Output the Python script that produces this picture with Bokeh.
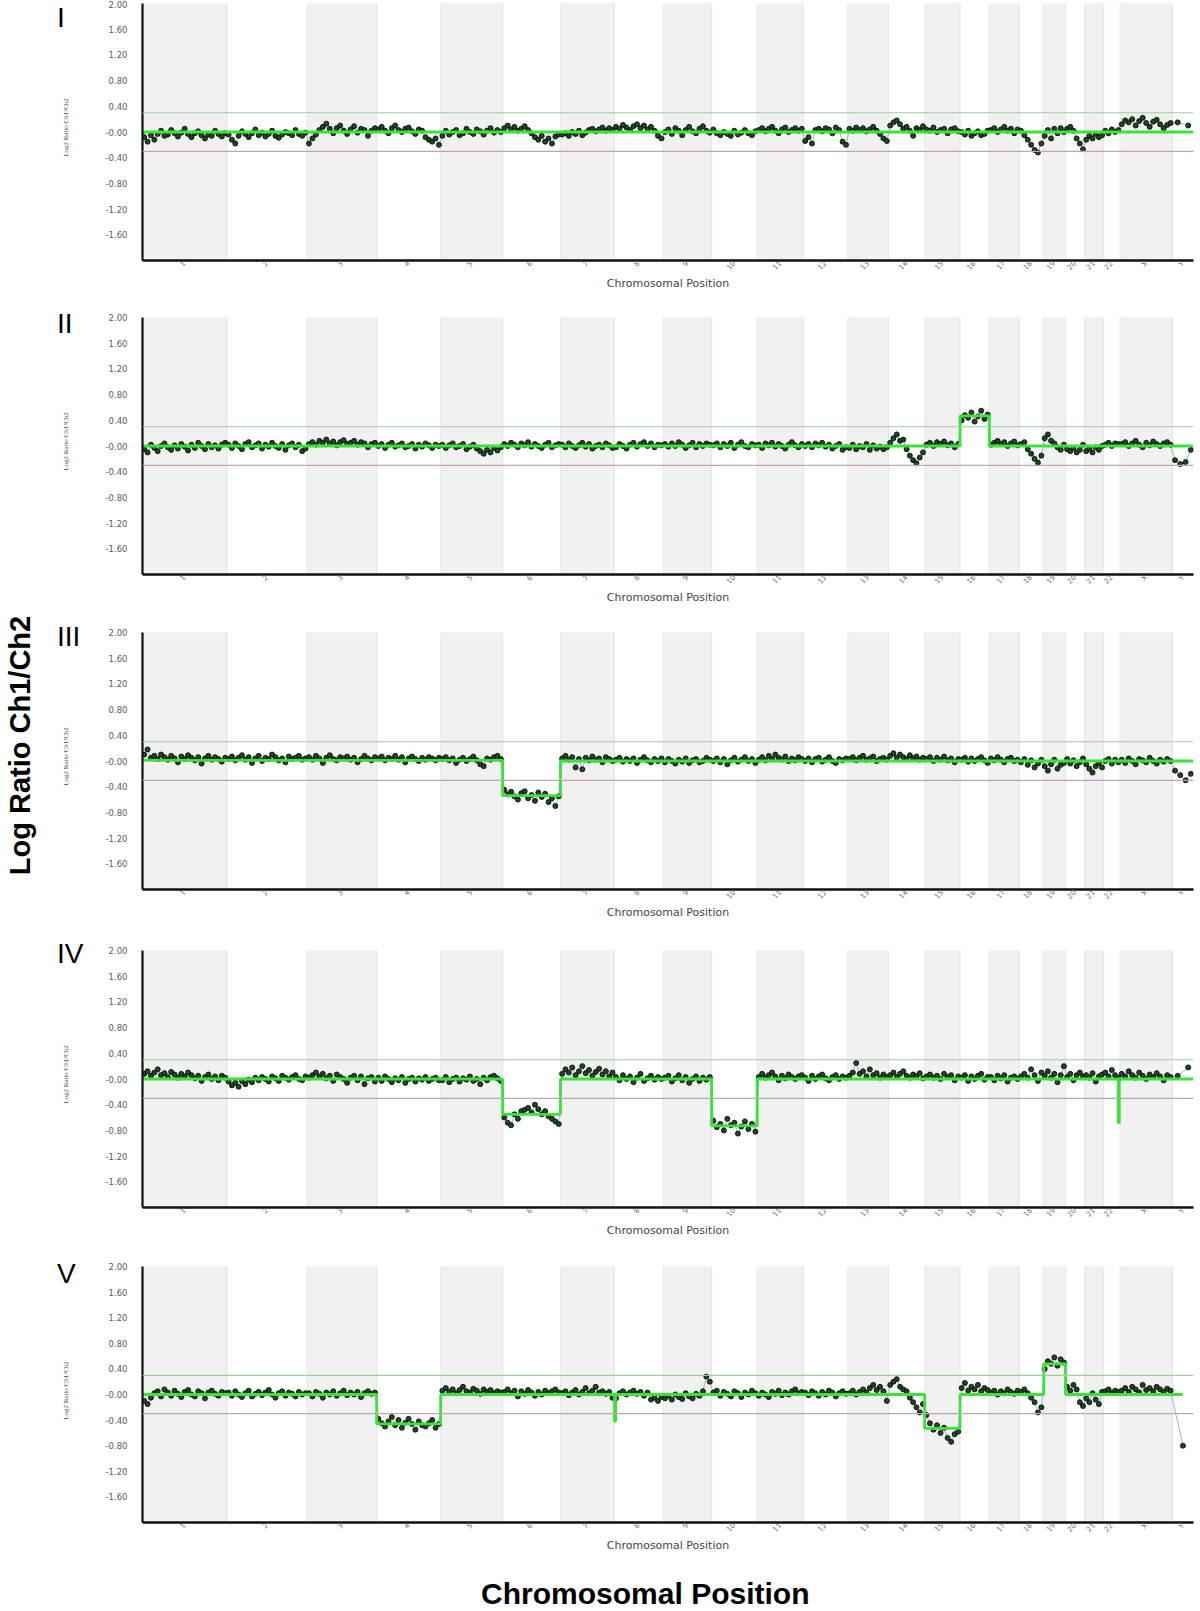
import numpy as np
from bokeh.plotting import figure
from bokeh.layouts import column, row
from bokeh.models import Range1d, FixedTicker, PrintfTickFormatter, Label, Span
from bokeh.embed import file_html
from bokeh.resources import INLINE

# ---------------- data ----------------
chrom_names = ["1", "2", "3", "4", "5", "6", "7", "8", "9", "10", "11", "12",
               "13", "14", "15", "16", "17", "18", "19", "20", "21", "22", "X", "Y"]
chrom_len_mb = [248, 236, 204, 188, 182, 170, 158, 144, 142, 134, 136, 130,
                120, 106, 104, 86, 88, 70, 66, 56, 56, 48, 154, 62]

y_ticks = [2.0, 1.6, 1.2, 0.8, 0.4, 0.0, -0.4, -0.8, -1.2, -1.6]
gain_threshold = 0.3
loss_threshold = -0.3
panel_names = ["I", "II", "III", "IV", "V"]

# log2 ratios (x100), one list per chromosome
ratios_I = [
    [-8, -15, -5, -12, -3, 2, -6, -4, 3, -2, -7, -1, 5, -3, -8, -2, 1, -5, -10, -4, -6, 2, -3, -7, -2],
    [-4, -12, -18, -6, 1, -3, -8, -2, 4, -5, -1, -7, -3, 2, -6, -9, -4, 0, -2, -5, 3, -3, -6, -1],
    [-18, -10, -4, 3, 8, 13, 5, -2, 6, 10, 2, -3, 4, 9, -1, 5, 3, -6, 2, 6],
    [4, 8, 2, -2, 6, 10, 3, 0, 5, 7, 1, -3, 4, 2, -8, -12, -15, -10, -20],
    [-6, 2, -4, 0, 3, -5, -2, 5, 0, -3, 4, 1, -4, 2, 6, -1, 3, 0],
    [6, 10, 4, 8, 2, 5, 9, 3, -2, -8, -12, -6, -15, -10, -18, -7, -4],
    [-4, -2, -6, 0, -3, 2, -5, -1, 3, 5, 1, 4, 7, 2, 6, 3],
    [8, 5, 11, 7, 3, 9, 12, 6, 10, 4, 8, 2, -6, -10],
    [0, 4, -3, 6, 2, -5, 3, 8, 1, -2, 5, 9, 2, -1],
    [4, -2, -5, 0, -3, -6, 2, -4, -1, 3, -2, -5, 1],
    [3, 6, 1, 5, 8, 2, -2, 4, 7, 0, 3, 6, 2, 5],
    [-14, -8, -18, 3, 5, 1, 6, 4, -2, 7, 3, -15, -20],
    [5, 2, 7, 3, 6, 1, 4, 8, 2, -3, -10, -14],
    [10, 15, 18, 12, 5, 8, 2, -6, 6, 3, 9],
    [4, 2, 7, 0, 3, 5, -2, 4, 6, 1],
    [0, -4, 2, -6, -2, 1, -5, -3, 2],
    [3, 6, 0, 4, 8, 2, 5, -2, 4],
    [2, -5, -12, -20, -28, -32, -18],
    [-6, 3, -10, 5, -2, 6, 0],
    [5, 8, 2, -10, -18, -27],
    [-12, -6, -10, -3, -8, -5],
    [2, -2, 4, 0, 3],
    [12, 18, 15, 20, 10, 17, 22, 14, 8, 16, 19, 12, 6, 11, 14],
    [15, 10],
]
ratios_II = [
    [-5, -10, 2, -3, -8, 0, 4, -2, -6, 1, -4, 3, -1, -7, 2, -3, 5, 0, -5, 3, -2, 1, -4, 2, 5],
    [2, -3, 4, 0, -5, 3, 6, -2, 1, 4, -4, 2, -1, 5, 0, -3, 3, -6, 1, 4, -2, 2, -8, -4],
    [3, 6, 2, 8, 5, 10, 4, 7, 1, 6, 9, 3, 5, 8, 2, 6, 4, -2, 3, 5],
    [0, 3, -3, 2, 5, -1, 1, 4, -2, 0, 3, -4, 2, -1, 4, 1, -3, 2, 0],
    [2, -3, 1, 4, -2, 0, 3, -5, -1, 2, -4, -8, -12, -6, -10, -3, -7, -2],
    [3, 0, 5, 2, -2, 4, 1, 6, -1, 3, 0, -3, 2, 5, -2, 1, 3],
    [2, -2, 4, 0, -3, 1, 5, -1, 3, -4, 0, 2, -2, 4, 1, -3],
    [-2, 3, 0, -4, 2, 5, -1, 3, 6, 0, 4, -2, 2, 1],
    [3, -1, 4, 0, 6, 2, -3, 1, 5, -2, 3, 0, 4, 2],
    [1, 4, -2, 3, 0, 5, -3, 2, 6, 0, -2, 3, 1],
    [2, -3, 4, 1, 5, -1, 3, 0, -4, 2, 6, 1, -2, 3],
    [0, 3, -2, 4, 1, 5, -1, 2, -4, 0, 3, -6, -2],
    [-3, 2, -5, 0, -2, 3, -6, 1, -4, -1, -5, -2],
    [5, 12, 18, 8, 10, -5, -15, -22, -27, -18, -10],
    [2, 5, 0, 6, 3, 7, 1, 4, -2, 3],
    [40, 48, 44, 52, 38, 46, 55, 42, 49],
    [2, 5, 8, 3, 6, 0, 4, 7, 1],
    [3, 6, -5, -12, -20, -26, -15],
    [12, 18, 8, 4, -2, -6, 2],
    [-5, -8, -3, -10, -6, 2],
    [-8, -4, -10, -2, -6, 0],
    [2, 5, 0, 4, 3],
    [3, 6, 0, 4, 8, 2, -2, 5, 1, 7, 3, 0, 4, 6, 2],
    [-22, -28, -25, -6],
]
ratios_III = [
    [10, 18, 5, 8, 3, 10, 6, 2, 8, 4, -2, 7, 3, 9, 5, 1, 6, -4, 4, 8, 2, 6, 3, -1, 5],
    [3, 7, 1, 5, 9, 2, 6, -3, 4, 8, 0, 5, 3, 10, 6, 1, 4, -2, 7, 3, 5, 8, 2, 4],
    [6, 2, 8, 4, -3, 5, 9, 3, 1, 6, 4, 7, 2, 5, -2, 3, 8, 4, 1, 6],
    [4, 7, 1, 5, 3, 8, 2, 6, -2, 4, 7, 3, 0, 5, 2, 6, 4, 1, 5],
    [3, 6, 1, 4, -3, 2, 5, 0, 3, 7, 1, -5, -8, 4, 2, 6, 8, 3],
    [-45, -52, -48, -55, -60, -50, -47, -58, -53, -62, -49, -56, -51, -64, -58, -70, -55],
    [4, 8, 2, 6, -10, 3, -13, 5, 1, 7, 2, 4, -2, 6, 3, 0],
    [2, 5, -1, 3, 0, 4, -3, 2, 6, 1, -2, 3, 0, 4],
    [-2, 3, 0, -4, 2, -1, 4, -3, 1, 3, -2, 0, 5, 2],
    [0, 4, -2, 3, -5, 1, 5, -1, 2, 6, 0, 3, -3],
    [2, 6, 1, 8, 3, 10, 5, 2, 7, 0, 4, 1, 6, 3],
    [0, 4, -2, 3, 5, -1, 2, 6, 0, -3, 3, 1, 4],
    [3, 6, 1, 5, 8, 2, 4, 7, 0, 3, 5, 2],
    [8, 12, 5, 10, 6, 3, 9, 4, 7, 2, 5],
    [3, 6, 0, 5, 2, 7, 1, 4, -2, 3],
    [2, 5, -1, 4, 0, 3, 6, 1, -3],
    [4, 1, 6, 2, -2, 3, 5, 0, 2],
    [-2, 3, -6, 1, -10, -4, 2],
    [-8, -15, -5, 2, -12, -6, -3],
    [3, -4, 1, -8, -2, 4],
    [-5, -12, -18, -8, -3, -10],
    [0, 3, -4, 2, -2],
    [2, -3, 4, 0, -5, 3, 1, -2, 5, 0, -4, 2, -1, 3, 0],
    [-15, -22, -30, -20],
]
ratios_IV = [
    [8, 12, 5, 10, 15, 6, 9, 3, 11, 7, 2, 8, 4, 10, 6, 1, 5, -3, 3, 7, 0, 4, -2, 5, 2],
    [-4, -10, -6, -12, -3, -8, -1, -5, 2, -2, 3, 0, -4, 4, 1, -3, 5, 2, -1, 3, 6, 0, -2, 4],
    [2, 6, 10, 4, 8, 1, 5, -3, 7, 3, 0, -6, 2, 5, -2, 4, -8, 1, 3, -4],
    [2, -3, 4, 0, -5, 1, -2, 3, -6, 0, 2, -4, 1, -1, 3, -3, 0, 2, -2],
    [-2, 3, -5, 0, 2, -4, 1, -1, 4, -3, 0, -8, 2, -2, 3, 5, 1, -3],
    [-60, -68, -72, -55, -62, -50, -48, -45, -52, -40, -47, -55, -50, -58, -62, -66, -70],
    [8, 15, 10, 18, 6, 12, 20, 9, 14, 5, 11, 16, 7, 12, 4, 10],
    [3, -2, 6, 0, 4, -5, 2, 8, -3, 1, 5, -1, 3, 0],
    [2, 5, -4, 1, 6, -2, 3, -6, 0, 4, -3, 2, -1, 3],
    [-65, -75, -70, -80, -62, -72, -68, -85, -74, -66, -78, -70, -82],
    [3, 8, 2, 6, 10, 4, -2, 5, 1, 7, 3, 0, 4, 6],
    [2, -3, 5, 0, 4, 7, 1, -2, 3, 6, 0, 4, 2],
    [5, 10, 25, 8, 12, 4, 15, 6, 9, 2, 7, 3],
    [6, 10, 3, 8, 12, 5, 2, 7, 4, 9, 1],
    [4, 7, 2, 5, 0, 8, 3, 6, -2, 4],
    [2, 6, -3, 4, 0, 5, 8, -1, 3],
    [3, -2, 5, 1, 6, -4, 2, 4, 0],
    [4, 8, 2, 15, 6, -3, 10],
    [5, 12, 2, 8, -5, 6, 20],
    [3, 8, -2, 6, 10, 4],
    [6, 2, 9, -4, 4, 7],
    [10, 4, 14, 6, 2],
    [8, 4, 12, 6, 2, 10, 5, 0, 7, 3, 9, 4, -2, 6, 3],
    [5, 18],
]
ratios_V = [
    [-10, -15, -5, 2, 5, -3, 8, 3, -2, 6, 1, -4, 4, 7, 0, -3, 5, 2, -6, 3, 6, 1, -2, 4, 2],
    [3, -2, 5, 0, -4, 2, 6, -3, 1, 4, -1, 3, 7, 0, -5, 2, 5, -2, 3, 1, -3, 4, 0, 2],
    [2, -3, 4, 1, -5, 3, 0, 5, -2, 2, 6, -1, 3, 0, 4, -4, 2, 5, 1, 3],
    [-38, -45, -50, -42, -35, -48, -40, -52, -44, -38, -46, -55, -42, -48, -50, -45, -40, -52, -46],
    [6, 10, 4, 8, 2, 7, 12, 5, 3, 9, 6, 1, 8, 4, 7, 2, 5, 3],
    [4, 8, 2, 6, -3, 5, 1, 7, 3, -2, 4, 0, 6, 2, 5, 8, 3],
    [2, 5, -1, 3, 7, 0, 4, 10, 2, 6, 12, 3, 5, 1, 4, -5],
    [-6, 2, 5, 0, 3, 6, 1, 4, -2, 3, -8, -5, -10, -4],
    [-6, -2, -8, 0, -4, -7, 2, -3, -6, 1, -2, 5, 28, 20],
    [3, 6, -2, 4, 1, -3, 5, 2, -4, 3, 0, 6, 2],
    [-2, 3, 0, -4, 4, 1, 6, -1, 3, 0, 5, 8, 2, 4],
    [3, -1, 5, 2, -2, 4, 0, 6, 3, -3, 2, 5, 1],
    [2, 6, 0, 4, 8, 3, 10, 15, 7, 12, 5, -10],
    [15, 20, 24, 12, 8, 5, -5, -12, -20, -28, -15],
    [-32, -45, -55, -48, -60, -52, -68, -74, -62, -58],
    [10, 18, 6, 12, 8, 15, 5, 10, 7],
    [3, 6, 0, 5, 2, 8, 4, 1, 6],
    [4, 8, 2, -5, -12, -28, -20],
    [40, 52, 48, 58, 45, 55, 50],
    [12, 6, 15, 8, -12, -18],
    [-6, -12, 2, -8, -15, 4],
    [5, 8, 2, 6, 4],
    [6, 10, 4, 12, 8, 3, 15, 7, 10, 5, 12, 8, 4, 9, 6],
    [-80],
]

# segmentation (start Mb, end Mb, mean log2 ratio)
segments_I = [(0, 3088, 0.00)]
segments_II = [(0, 2402, 0.00), (2402, 2488, 0.47), (2488, 3086, 0.00)]
segments_III = [(0, 1058, 0.01), (1058, 1228, -0.54), (1228, 3088, 0.00)]
segments_IV = [(0, 1058, 0.00), (1058, 1228, -0.55), (1228, 1672, 0.00), (1672, 1806, -0.73),
               (1806, 2867, 0.00), (2867, 2870, -0.68), (2870, 3088, 0.00)]
segments_V = [(0, 688, 0.00), (688, 876, -0.46), (876, 1387, 0.00), (1387, 1390, -0.42),
              (1390, 2298, 0.00), (2298, 2402, -0.53), (2402, 2648, 0.00), (2648, 2712, 0.48),
              (2712, 3056, 0.00)]

all_ratios = [ratios_I, ratios_II, ratios_III, ratios_IV, ratios_V]
all_segments = [segments_I, segments_II, segments_III, segments_IV, segments_V]

# ---------------- layout (page pixels) ----------------
PAGE_W, PAGE_H = 1200, 1611
STRIP_W = 90                 # left strip carrying the panel numerals and vertical titles
FRAME_L = 142                # left edge of each plotting frame on the page
FRAME_W = 1051
frame_tops = [3, 317, 632, 950, 1266]
frame_h = [257, 257, 257, 257, 256]
fig_edges = [0, 300, 610, 932, 1250, 1560]
numeral_baseline = [17, 323, 636, 953, 1273]
FONT = "Liberation Sans"

lens = np.array(chrom_len_mb)
starts = np.concatenate([[0], np.cumsum(lens)[:-1]])
total = int(lens.sum())
mids = [int(s + l // 2) for s, l in zip(starts, lens)]

PANEL_W = PAGE_W - STRIP_W

figs = []
for k in range(5):
    H = fig_edges[k + 1] - fig_edges[k]
    top_b = frame_tops[k] - fig_edges[k]
    bot_b = H - top_b - frame_h[k]
    p = figure(width=PANEL_W, height=H, x_range=Range1d(0, total), y_range=Range1d(-2, 2),
               output_backend="svg", toolbar_location=None, title=None,
               min_border_left=FRAME_L - STRIP_W,
               min_border_right=PAGE_W - FRAME_L - FRAME_W,
               min_border_top=top_b, min_border_bottom=bot_b)
    p.outline_line_color = None
    p.xgrid.visible = False
    p.ygrid.visible = False
    p.background_fill_color = "white"
    p.border_fill_color = "white"

    # alternating chromosome bands
    odd = list(range(0, 24, 2))
    p.quad(left=[starts[i] for i in odd], right=[starts[i] + lens[i] for i in odd],
           bottom=-2, top=2, fill_color="#f1f1f1", line_color="#e3e3e3", line_width=0.8)
    even = list(range(1, 24, 2))
    p.segment(x0=[starts[i] for i in even], x1=[starts[i] for i in even], y0=-2, y1=2,
              line_color="#e6e6e6", line_width=0.8)

    p.add_layout(Span(location=gain_threshold, dimension="width", line_color="#9fcd9f", line_width=1.2))
    p.add_layout(Span(location=loss_threshold, dimension="width", line_color="#c2a2b8", line_width=1.2))

    xs, ys = [], []
    for ci, vals in enumerate(all_ratios[k]):
        n = len(vals)
        for j, v in enumerate(vals):
            xs.append(starts[ci] + (j + 0.5) * lens[ci] / n)
            ys.append(v / 100.0)
    p.line(xs, ys, line_color="#8d9dbf", line_width=1, line_alpha=0.8)
    p.scatter(xs, ys, size=5, marker="circle", fill_color="#1d4a1d", line_color="#0b0b0b",
              line_width=0.9)

    gx, gy = [], []
    for (s, e, v) in all_segments[k]:
        gx += [s, e]
        gy += [v, v]
    p.line(gx, gy, line_color="#3ae23a", line_width=2.8)

    # y axis
    p.yaxis.ticker = FixedTicker(ticks=y_ticks)
    p.yaxis.formatter = PrintfTickFormatter(format="%.2f")
    p.yaxis.major_label_overrides = {0: "-0.00"}
    p.yaxis.major_tick_out = 0
    p.yaxis.major_tick_in = 0
    p.yaxis.minor_tick_line_color = None
    p.yaxis.major_label_standoff = 15
    p.yaxis.major_label_text_font = "DejaVu Sans"
    p.yaxis.major_label_text_font_size = "8.5px"
    p.yaxis.major_label_text_color = "#5a5a5a"
    p.yaxis.axis_line_color = "#111111"
    p.yaxis.axis_line_width = 2.2

    # x axis
    p.xaxis.ticker = FixedTicker(ticks=mids)
    p.xaxis.major_label_overrides = {m: nm for m, nm in zip(mids, chrom_names)}
    p.xaxis.major_tick_out = 0
    p.xaxis.major_tick_in = 0
    p.xaxis.minor_tick_line_color = None
    p.xaxis.major_label_standoff = 2
    p.xaxis.major_label_orientation = 0.8
    p.xaxis.major_label_text_font = "DejaVu Sans"
    p.xaxis.major_label_text_font_size = "7px"
    p.xaxis.major_label_text_color = "#707070"
    p.xaxis.axis_line_color = "#111111"
    p.xaxis.axis_line_width = 2.5
    p.xaxis.axis_label = "Chromosomal Position"
    p.xaxis.axis_label_text_font = "DejaVu Sans"
    p.xaxis.axis_label_text_font_size = "11px"
    p.xaxis.axis_label_text_font_style = "normal"
    p.xaxis.axis_label_text_color = "#444444"
    p.xaxis.axis_label_standoff = 0
    figs.append(p)

# left strip: page-pixel coordinates (y grows downward)
strip = figure(width=STRIP_W, height=PAGE_H, x_range=Range1d(0, STRIP_W), y_range=Range1d(PAGE_H, 0),
               output_backend="svg", toolbar_location=None, title=None,
               x_axis_location=None, y_axis_location=None, min_border=0)
strip.outline_line_color = None
strip.grid.visible = False
for k in range(5):
    strip.add_layout(Label(x=56.5, y=numeral_baseline[k], text=panel_names[k],
                           text_font=FONT, text_font_size="28px", text_color="#000000",
                           text_align="left", text_baseline="alphabetic"))
    strip.add_layout(Label(x=65, y=frame_tops[k] + 124, text="Log2 Ratio Ch1/Ch2", angle=np.pi / 2,
                           text_font="Liberation Sans Narrow", text_font_size="7px",
                           text_color="#444444", text_align="center", text_baseline="middle"))
strip.add_layout(Label(x=19, y=745, text="Log Ratio Ch1/Ch2", angle=np.pi / 2,
                       text_font=FONT, text_font_size="29px", text_font_style="bold",
                       text_color="#000000", text_align="center", text_baseline="middle"))

# bottom strip with the overall x title
bottom = figure(width=PANEL_W, height=PAGE_H - fig_edges[-1],
                x_range=Range1d(STRIP_W, PAGE_W), y_range=Range1d(PAGE_H, fig_edges[-1]),
                output_backend="svg", toolbar_location=None, title=None,
                x_axis_location=None, y_axis_location=None, min_border=0)
bottom.outline_line_color = None
bottom.grid.visible = False
bottom.add_layout(Label(x=621, y=1593, text="Chromosomal Position",
                        text_font=FONT, text_font_size="30px", text_font_style="bold",
                        text_color="#000000", text_align="center", text_baseline="middle"))

layout = row(strip, column(*figs, bottom, spacing=0), spacing=0)

open("out.html", "w").write(file_html(layout, INLINE))
